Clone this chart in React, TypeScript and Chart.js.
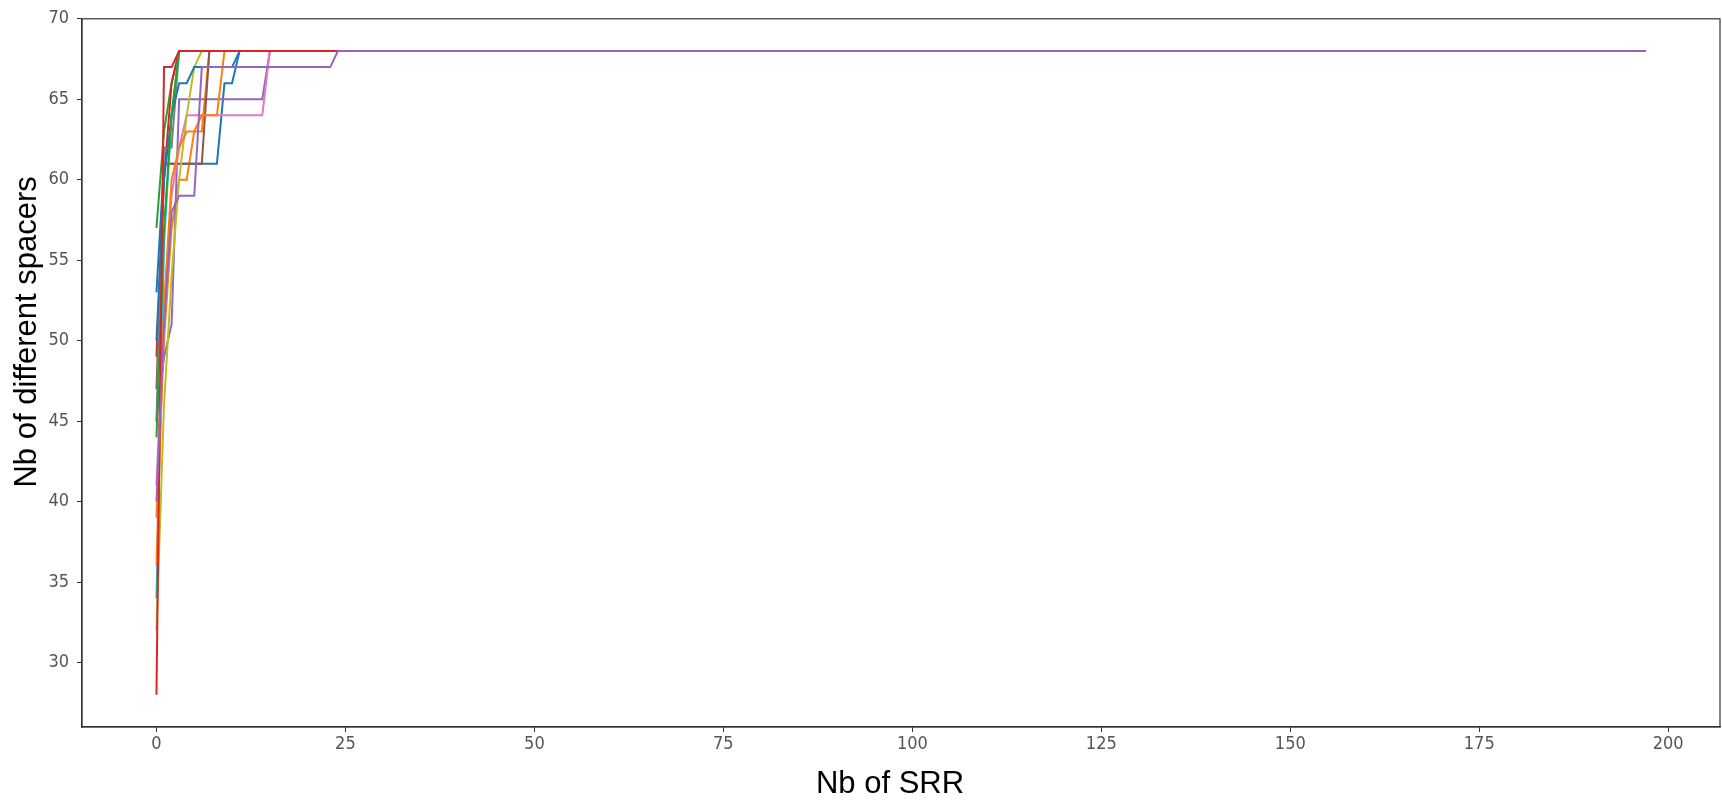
import React, { useEffect, useRef } from "react";
import { Chart, registerables } from "chart.js";

Chart.register(...registerables);

// ---- data (Nb of SRR on x, Nb of different spacers on y) ----
const X_LAST = 197;
const Y_FINAL = 68;
const X_TICKS = [0, 25, 50, 75, 100, 125, 150, 175, 200];
const Y_TICKS = [30, 35, 40, 45, 50, 55, 60, 65, 70];
const X_MIN = -9.85;
const X_MAX = 206.85;
const Y_MIN = 26;
const Y_MAX = 70;
const X_TITLE = "Nb of SRR";
const Y_TITLE = "Nb of different spacers";

// each series: values at SRR = 0, 1, 2, ... (then flat at 68 to the last SRR)
const blueA = [53, 61, 61, 61, 61, 61, 61, 61, 61, 66, 66, 68];
const orangeA = [39, 50, 57, 60, 60, 63, 63, 68];
const greenA = [57, 63, 66, 68];
const redA = [49, 60, 66, 68];
const purpleA = [45, 49, 51, 65, 65, 65, 65, 65, 65, 65, 65, 65, 65, 65, 65, 68];
const brownA = [47, 61, 61, 61, 61, 61, 61, 68];
const pinkA = [41, 52, 59, 62, 64, 64, 64, 64, 64, 64, 64, 64, 64, 64, 64, 68];
const grayA = [45, 62, 62, 68];
const oliveA = [32, 46, 54, 60, 64, 67, 68];
const cyanA = [34, 56, 64, 68];
const blueB = [50, 60, 64, 66, 66, 67, 67, 67, 67, 67, 67, 68];
const orangeB = [36, 52, 60, 62, 63, 63, 64, 64, 64, 68];
const greenB = [44, 57, 64, 68];
const redB = [28, 67, 67, 68];
const purpleB = [40, 51, 58, 59, 59, 59, 67, 67, 67, 67, 67, 67, 67, 67, 67, 67, 67, 67, 67, 67, 67, 67, 67, 67, 68];

const SERIES = [blueA, orangeA, greenA, redA, purpleA, brownA, pinkA, grayA, oliveA, cyanA, blueB, orangeB, greenB, redB, purpleB];
const COLORS = ["#1f77b4", "#ff7f0e", "#2ca02c", "#d62728", "#9467bd", "#8c564b", "#e377c2", "#7f7f7f", "#bcbd22", "#17becf"];

const TICK_FONT = "'Liberation Sans Narrow', 'DejaVu Sans Condensed', 'Liberation Sans', Arial, sans-serif";
const TITLE_FONT = "'Liberation Sans', Arial, sans-serif";

const framePlugin = {
  id: "frame",
  afterDraw(chart: any) {
    const { ctx, chartArea } = chart;
    ctx.save();
    ctx.strokeStyle = "#333333";
    ctx.lineWidth = 1.2;
    ctx.strokeRect(chartArea.left, chartArea.top, chartArea.right - chartArea.left, chartArea.bottom - chartArea.top);
    ctx.restore();
  },
};

const titlesPlugin = {
  id: "axisTitles",
  afterDraw(chart: any) {
    const { ctx, chartArea } = chart;
    ctx.save();
    ctx.fillStyle = "#000000";
    ctx.font = "31px " + TITLE_FONT;
    ctx.textAlign = "center";
    ctx.textBaseline = "middle";
    ctx.fillText(X_TITLE, (chartArea.left + chartArea.right) / 2 - 11, chartArea.bottom + 57);
    ctx.translate(chartArea.left - 55, (chartArea.top + chartArea.bottom) / 2 - 41);
    ctx.rotate(-Math.PI / 2);
    ctx.fillText(Y_TITLE, 0, 0);
    ctx.restore();
  },
};

export default function App() {
  const ref = useRef<HTMLCanvasElement | null>(null);

  useEffect(() => {
    if (!ref.current) return;
    const datasets = SERIES.map((vals, i) => ({
      label: "run " + (i + 1),
      data: vals.map((v, k) => ({ x: k, y: v })).concat([{ x: X_LAST, y: Y_FINAL }]),
      borderColor: COLORS[i % COLORS.length],
      backgroundColor: COLORS[i % COLORS.length],
      borderWidth: 2,
      pointRadius: 0,
      tension: 0,
      fill: false,
      order: SERIES.length - i,
    }));
    const chart = new Chart(ref.current, {
      type: "line",
      data: { datasets },
      options: {
        animation: false,
        responsive: false,
        layout: { padding: { top: 18, right: 2, left: 0, bottom: 0 } },
        plugins: { legend: { display: false }, tooltip: { enabled: false } },
        scales: {
          x: {
            type: "linear",
            min: X_MIN,
            max: X_MAX,
            afterFit: (s: any) => { s.height = 76; },
            afterBuildTicks: (s: any) => { s.ticks = X_TICKS.map((v) => ({ value: v })); },
            grid: { display: true, drawOnChartArea: false, drawTicks: true, tickLength: 5, color: "#333333" },
            border: { display: true, color: "#333333", width: 1.2 },
            ticks: {
              padding: 2,
              color: "#555555",
              font: { family: TICK_FONT, size: 18 },
              maxRotation: 0,
              autoSkip: false,
              includeBounds: false,
            },
            title: { display: false, text: X_TITLE },
          },
          y: {
            type: "linear",
            min: Y_MIN,
            max: Y_MAX,
            afterFit: (s: any) => { s.width = 82; },
            afterBuildTicks: (s: any) => { s.ticks = Y_TICKS.map((v) => ({ value: v })); },
            grid: { display: true, drawOnChartArea: false, drawTicks: true, tickLength: 5, color: "#333333" },
            border: { display: true, color: "#333333", width: 1.2 },
            ticks: {
              padding: 8,
              color: "#555555",
              font: { family: TICK_FONT, size: 18 },
              autoSkip: false,
              includeBounds: false,
            },
            title: { display: false, text: Y_TITLE },
          },
        },
      },
      plugins: [framePlugin, titlesPlugin],
    });
    return () => chart.destroy();
  }, []);

  return (
    <div style={{ position: "fixed", left: 0, top: 0, width: 1722, height: 803, background: "#ffffff" }}>
      <canvas ref={ref} width={1722} height={803} style={{ display: "block" }} />
    </div>
  );
}
